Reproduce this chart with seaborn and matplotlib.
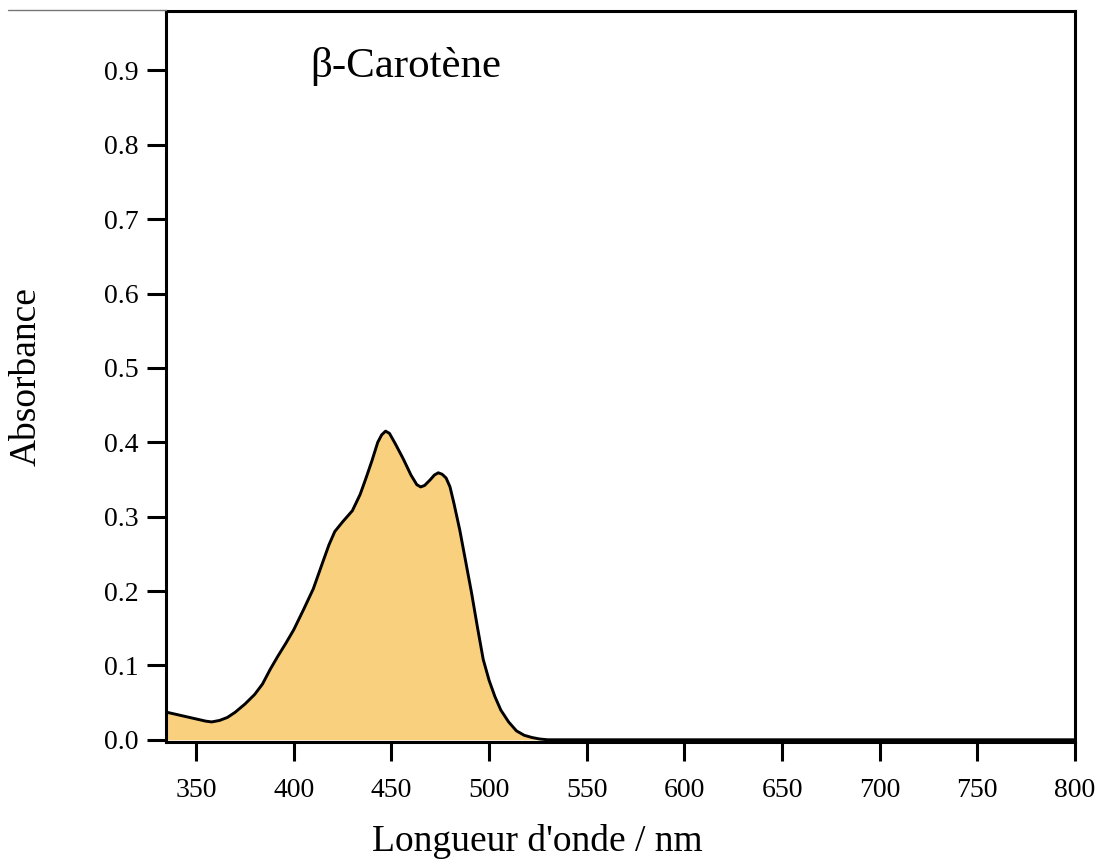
import numpy as np
import pandas as pd
import matplotlib
matplotlib.use("Agg")
import matplotlib.pyplot as plt
import seaborn as sns
from matplotlib.lines import Line2D

# Data
wavelength = [335, 340, 345, 350, 355, 358, 362, 366, 370, 375, 380, 384, 388, 392,
              396, 400, 405, 410, 415, 418, 421, 425, 430, 434, 437, 440, 443, 445,
              447, 449, 452, 456, 460, 463, 465, 467, 470, 472, 474, 476, 478, 480,
              482, 485, 488, 491, 494, 497, 500, 503, 506, 510, 514, 518, 522, 526,
              530, 540, 560, 600, 650, 700, 750, 800]
absorbance = [0.037, 0.034, 0.031, 0.028, 0.025, 0.024, 0.026, 0.030, 0.037, 0.048,
              0.061, 0.075, 0.095, 0.113, 0.130, 0.148, 0.175, 0.203, 0.240, 0.262,
              0.280, 0.293, 0.308, 0.330, 0.352, 0.375, 0.400, 0.410, 0.415, 0.412,
              0.398, 0.378, 0.356, 0.343, 0.340, 0.342, 0.350, 0.356, 0.359, 0.357,
              0.352, 0.340, 0.318, 0.282, 0.240, 0.198, 0.152, 0.108, 0.080, 0.058,
              0.040, 0.024, 0.012, 0.006, 0.003, 0.001, 0.0, 0.0, 0.0, 0.0, 0.0,
              0.0, 0.0, 0.0]
x_ticks = [350, 400, 450, 500, 550, 600, 650, 700, 750, 800]
y_ticks = [0.0, 0.1, 0.2, 0.3, 0.4, 0.5, 0.6, 0.7, 0.8, 0.9]
title_text = "β-Carotène"
x_label = "Longueur d'onde / nm"
y_label = "Absorbance"

df = pd.DataFrame({"wl": wavelength, "abs": absorbance})

sns.set_theme(style="ticks")
plt.rcParams["font.family"] = ["Liberation Serif", "DejaVu Serif"]

fig = plt.figure(figsize=(11.01, 8.65), dpi=100)
ax = fig.add_axes([0.1508, 0.1422, 0.9764 - 0.1508, 0.9873 - 0.1422])

fill_color = "#F9D07E"
ax.fill_between(df["wl"], 0, df["abs"], color=fill_color, linewidth=0, zorder=1)
sns.lineplot(data=df, x="wl", y="abs", ax=ax, color="black", linewidth=2.1,
             zorder=2, estimator=None, sort=False)
ax.lines[-1].set_solid_joinstyle("round")

ax.set_xlim(334.6, 800)
ax.set_ylim(-0.003, 0.980)
ax.set_xticks(x_ticks)
ax.set_xticklabels([str(v) for v in x_ticks])
ax.set_yticks(y_ticks)
ax.set_yticklabels([f"{v:.1f}" for v in y_ticks])

for s in ax.spines.values():
    s.set_linewidth(2.2)
    s.set_color("black")
    s.set_visible(True)

ax.tick_params(axis="both", which="major", direction="out", length=14, width=2.2,
               colors="black", labelsize=20)
ax.tick_params(axis="x", pad=12)
ax.tick_params(axis="y", pad=6)
ax.tick_params(top=False, right=False)

ax.set_xlabel(x_label, fontsize=27, color="black")
ax.xaxis.set_label_coords((537 - 166) / 909, -0.112)
ax.set_ylabel(y_label, fontsize=27, color="black")
ax.yaxis.set_label_coords(-0.135, 0.5)

ax.text((310 - 166) / 909, (742 - 77) / 731, title_text, transform=ax.transAxes,
        fontsize=31, color="black", va="baseline", ha="left")

# thin grey rule at top-left as in the reference
fig.add_artist(Line2D([8 / 1101, 166 / 1101], [1 - 10 / 865, 1 - 10 / 865],
                      color="#777777", linewidth=1.0, transform=fig.transFigure))

ax.set_facecolor("white")
fig.patch.set_facecolor("white")
fig.savefig("out.png", dpi=100, facecolor="white")
